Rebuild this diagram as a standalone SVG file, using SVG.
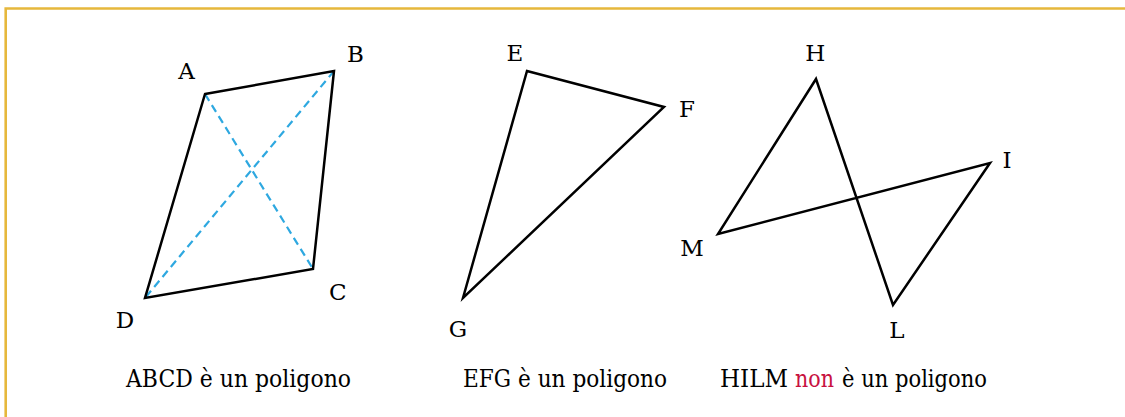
<svg xmlns="http://www.w3.org/2000/svg" width="1125" height="417" viewBox="0 0 1125 417">
<style>
.edge{fill:none;stroke:#000;stroke-width:2.5;stroke-linejoin:miter}
.diag{fill:none;stroke:#2ea8e0;stroke-width:2.2;stroke-dasharray:8 5}
.lbl{font-family:'DejaVu Serif','Liberation Serif',serif;font-size:23px;fill:#000;text-anchor:middle}
.cap{font-family:'DejaVu Serif','Liberation Serif',serif;font-size:25px;fill:#000}
.red{fill:#c8123f}
</style>
<rect x="0" y="0" width="1125" height="417" fill="#fff"/>
<path d="M5.7 430 V8.5 H1130" fill="none" stroke="#e6b83c" stroke-width="2.6"/>
<g id="connectors">
<line class="diag" x1="205" y1="94" x2="313" y2="269"/>
<line class="diag" x1="334" y1="71" x2="145" y2="298"/>
</g>
<g id="ABCD">
<polygon class="edge" points="205,94 334,71 313,269 145,298"/>
<text class="lbl" x="186.5" y="79">A</text>
<text class="lbl" x="355.5" y="61.5">B</text>
<text class="lbl" x="337.7" y="300">C</text>
<text class="lbl" x="125" y="328">D</text>
<text class="cap" x="126" y="387" textLength="225" lengthAdjust="spacingAndGlyphs">ABCD è un poligono</text>
</g>
<g id="EFG">
<polygon class="edge" points="527,71 664,107 463,298"/>
<text class="lbl" x="515" y="61">E</text>
<text class="lbl" x="687" y="116.5">F</text>
<text class="lbl" x="458" y="337">G</text>
<text class="cap" x="463" y="387" textLength="204" lengthAdjust="spacingAndGlyphs">EFG è un poligono</text>
</g>
<g id="HILM">
<polygon class="edge" points="816,79 893,305 990,163 718,234"/>
<text class="lbl" x="815.3" y="61">H</text>
<text class="lbl" x="1007" y="168">I</text>
<text class="lbl" x="897" y="338">L</text>
<text class="lbl" x="692" y="255.5">M</text>
<text class="cap" x="720" y="387" textLength="68" lengthAdjust="spacingAndGlyphs">HILM</text>
<text class="cap red" x="795" y="387" textLength="39" lengthAdjust="spacingAndGlyphs">non</text>
<text class="cap" x="842" y="387" textLength="145" lengthAdjust="spacingAndGlyphs">è un poligono</text>
</g>
</svg>
